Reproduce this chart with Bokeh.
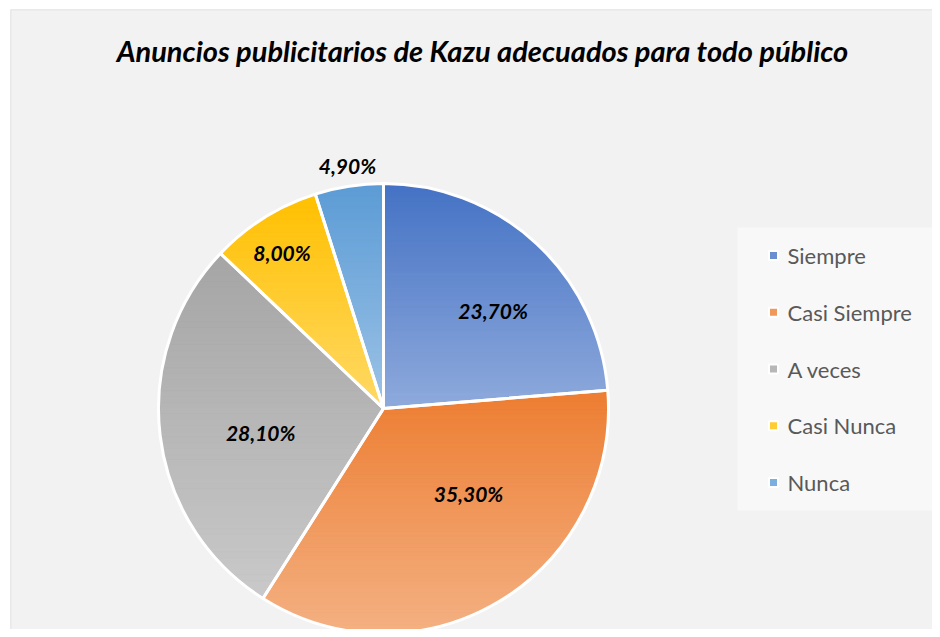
import numpy as np
from bokeh.plotting import figure
from bokeh.models import Range1d, Span
from bokeh.core.properties import value
from bokeh.embed import file_html
from bokeh.resources import INLINE

# ---------------- data ----------------
title_text = "Anuncios publicitarios de Kazu adecuados para todo público"
categories = ["Siempre", "Casi Siempre", "A veces", "Casi Nunca", "Nunca"]
percentages = [23.7, 35.3, 28.1, 8.0, 4.9]
value_labels = ["23,70%", "35,30%", "28,10%", "8,00%", "4,90%"]

# ---------------- style ----------------
top_colors = ["#4472C4", "#ED7D31", "#A5A5A5", "#FFC000", "#5B9BD5"]
bottom_colors = ["#8FAADC", "#F4B183", "#C9C9C9", "#FFD966", "#9DC3E6"]
label_radius = [0.653, 0.534, 0.556, 0.827, 1.093]
label_shift_deg = [5.6, -13.9, -4.0, -1.0, 0.4]
FONT = "Lato"

W, H = 922, 620          # frame size (1 data unit = 1 px)
CX, CY, R = 373, 221, 225


def hex2rgb(h):
    h = h.lstrip("#")
    return np.array([int(h[i:i + 2], 16) for i in (0, 2, 4)], dtype=float)


def mix(c0, c1, t):
    a, b = hex2rgb(c0), hex2rgb(c1)
    c = a + (b - a) * t
    return "#%02x%02x%02x" % tuple(int(round(v)) for v in c)


def clip(poly, y, keep_above):
    out = []
    n = len(poly)
    for i in range(n):
        p1 = poly[i]
        p2 = poly[(i + 1) % n]
        in1 = (p1[1] >= y) if keep_above else (p1[1] <= y)
        in2 = (p2[1] >= y) if keep_above else (p2[1] <= y)
        if in1:
            out.append(p1)
        if in1 != in2:
            t = (y - p1[1]) / (p2[1] - p1[1])
            out.append((p1[0] + t * (p2[0] - p1[0]), y))
    return out


p = figure(width=932, height=629, output_backend="svg", toolbar_location=None,
           x_range=Range1d(0, W), y_range=Range1d(0, H),
           x_axis_location=None, y_axis_location=None,
           min_border_left=10, min_border_top=9, min_border_right=0, min_border_bottom=0)
p.grid.visible = False
p.background_fill_color = "#f2f2f2"
p.border_fill_color = "white"
p.outline_line_color = None
p.add_layout(Span(location=0, dimension="height", line_color="#d9d9d9", line_width=1.5))
p.add_layout(Span(location=H, dimension="width", line_color="#d9d9d9", line_width=1.5))

frac = np.array(percentages) / sum(percentages)
ends = np.cumsum(frac) * 2 * np.pi
starts = ends - frac * 2 * np.pi
mids = (starts + ends) / 2
mid_colors = [mix(a, b, 0.5) for a, b in zip(top_colors, bottom_colors)]

# base wedges (solid)
p.wedge(x=CX, y=CY, radius=R, start_angle=list(np.pi / 2 - starts),
        end_angle=list(np.pi / 2 - ends), direction="clock",
        fill_color=mid_colors, line_color=None)

# gradient strips per slice
xs, ys, cols = [], [], []
NB = 60
for i in range(len(percentages)):
    th = np.linspace(starts[i], ends[i], 200)
    poly = [(CX, CY)] + [(CX + R * np.sin(t), CY + R * np.cos(t)) for t in th]
    ymax = max(q[1] for q in poly)
    ymin = min(q[1] for q in poly)
    h = (ymax - ymin) / NB
    for k in range(NB):
        yh = ymax - k * h
        yl = yh - h
        band = clip(clip(poly, yl, True), yh, False)
        if len(band) < 3:
            continue
        xs.append([q[0] for q in band])
        ys.append([q[1] for q in band])
        cols.append(mix(top_colors[i], bottom_colors[i], (k + 0.5) / NB))
p.patches(xs=xs, ys=ys, fill_color=cols, line_color=cols, line_width=0.8)

# white separators / outer edge
p.wedge(x=CX, y=CY, radius=R, start_angle=list(np.pi / 2 - starts),
        end_angle=list(np.pi / 2 - ends), direction="clock",
        fill_color=None, line_color="white", line_width=3)

# data labels
ang = mids + np.radians(label_shift_deg)
lx = [CX + r * R * np.sin(a) for r, a in zip(label_radius, ang)]
ly = [CY + r * R * np.cos(a) for r, a in zip(label_radius, ang)]
p.text(x=lx, y=ly, text=value_labels, text_align="center", text_baseline="middle",
       text_font=value(FONT), text_font_style="bold italic", text_font_size="21px",
       text_color="black")

# title
p.text(x=[472], y=[579], text=[title_text], text_align="center",
       text_baseline="middle", text_font=value(FONT), text_font_style="bold italic",
       text_font_size="29px", text_color="black")

# legend
p.quad(left=[727], right=[W], top=[402], bottom=[119], fill_color="#f8f8f8", line_color=None)
ly0, step = 374, 56.75
leg_y = [ly0 - i * step for i in range(len(categories))]
p.rect(x=[763] * len(categories), y=leg_y, width=9, height=9,
       fill_color=mid_colors, line_color="white", line_width=2)
p.text(x=[777] * len(categories), y=leg_y, text=categories, text_align="left",
       text_baseline="middle", text_font=value(FONT), text_font_size="22px",
       text_color="#595959")

open("out.html", "w").write(file_html(p, INLINE))
